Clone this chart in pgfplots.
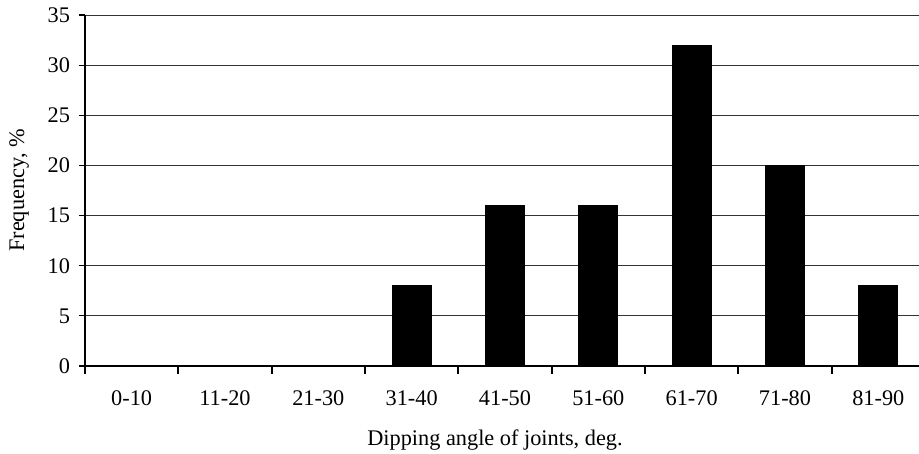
\documentclass[border=0pt]{standalone}
\usepackage{fontspec}
\setmainfont{Liberation Serif}
\usepackage{pgfplots}
\pgfplotsset{compat=1.18}

\pgfplotstableread{
idx freq
0 0
1 0
2 0
3 8
4 16
5 16
6 32
7 20
8 8
}\jointdata

\begin{document}
\begin{tikzpicture}
\useasboundingbox (-42.5bp,-44bp) rectangle (417bp,183bp);
\begin{axis}[
    at={(0,0)}, anchor=south west,
    width=420bp, height=175.5bp,
    scale only axis,
    xmin=-0.5, xmax=8.5,
    ymin=0, ymax=35,
    axis x line*=bottom,
    axis y line*=left,
    axis line style={-},
    x axis line style={line width=1.1bp},
    y axis line style={line width=0.8bp},
    xtick={0,...,8},
    xticklabels={0-10,11-20,21-30,31-40,41-50,51-60,61-70,71-80,81-90},
    major x tick style={draw=none},
    minor xtick={-0.5,0.5,...,8.5},
    minor x tick style={line width=1bp, black},
    minor tick length=4bp,
    ytick={0,5,...,35},
    major tick length=3bp,
    y tick style={line width=0.6bp, black},
    tick align=outside,
    ymajorgrids,
    major grid style={line width=0.5bp, black!80},
    /pgf/number format/assume math mode=true,
    ticklabel style={font=\fontsize{11.2}{13}\selectfont},
    xticklabel style={yshift=-6bp},
    yticklabel style={xshift=-1bp},
    xlabel={Dipping angle of joints, deg.},
    ylabel={Frequency, \%},
    label style={font=\fontsize{11.2}{13}\selectfont},
    xlabel style={yshift=-5bp, xshift=-5bp},
    ylabel style={yshift=2.5bp},
    ybar, bar width=19.5bp,
]
\addplot[fill=black, draw=black, bar shift=0pt] table[x=idx, y=freq] {\jointdata};
\end{axis}
\end{tikzpicture}
\end{document}
